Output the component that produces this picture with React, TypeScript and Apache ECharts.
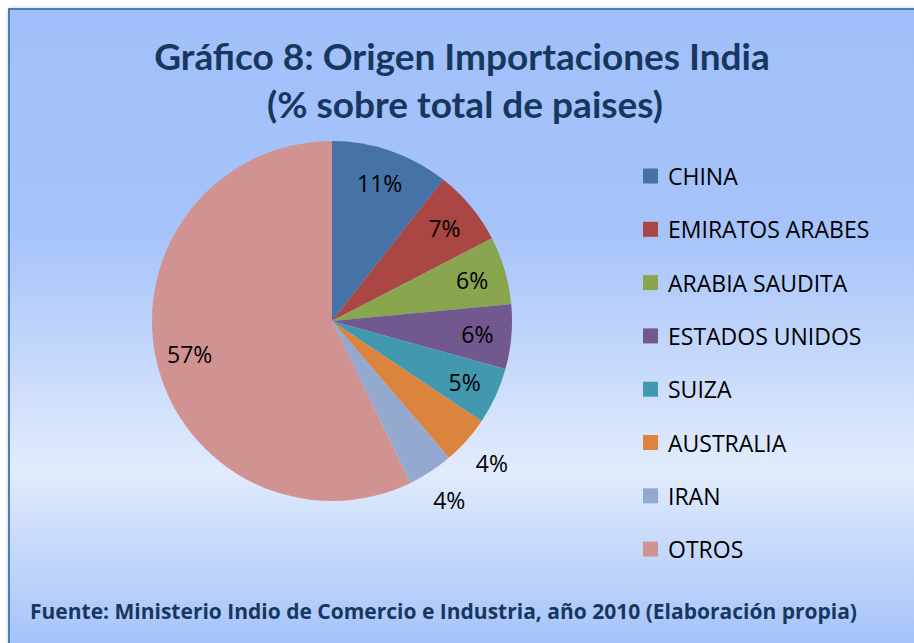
import React, { useEffect, useRef } from "react";
import * as echarts from "echarts";

const titleLines = ["Gráfico 8: Origen Importaciones India", "(% sobre total de paises)"];
const sourceText = "Fuente: Ministerio Indio de Comercio e Industria, año 2010 (Elaboración propia)";
const categories = ["CHINA", "EMIRATOS ARABES", "ARABIA SAUDITA", "ESTADOS UNIDOS", "SUIZA", "AUSTRALIA", "IRAN", "OTROS"];
const values = [10.6, 6.8, 6.1, 5.8, 5.1, 4.35, 4.05, 57.2];
const colors = ["#4572A7", "#AA4643", "#89A54E", "#71588F", "#4198AF", "#DB843D", "#93A9CF", "#D19392"];
const outerLabelNames = ["AUSTRALIA", "IRAN"];

const TITLE_COLOR = "#17375E";
const LABEL_FONT = "'Open Sans', 'DejaVu Sans', sans-serif";
const TITLE_FONT = "Lato, 'Open Sans', sans-serif";
const SOURCE_FONT = "'Open Sans', Lato, sans-serif";

export default function App() {
  const ref = useRef<HTMLDivElement>(null);

  useEffect(() => {
    if (!ref.current) return;
    const chart = echarts.init(ref.current, undefined, { renderer: "svg" });

    const center = [332, 321];
    const labelStyle = {
      position: "inside",
      formatter: "{d}%",
      color: "#000",
      fontFamily: LABEL_FONT,
      fontSize: 23,
    };

    const mainData = categories.map((name, i) => ({
      name,
      value: values[i],
      itemStyle: { color: colors[i] },
    }));
    const innerLabelData = categories.map((name, i) => ({
      name,
      value: values[i],
      label: { show: !outerLabelNames.includes(name) },
    }));
    const outerLabelData = categories.map((name, i) => ({
      name,
      value: values[i],
      label: { show: outerLabelNames.includes(name) },
    }));

    const overlayCommon = {
      type: "pie",
      center,
      startAngle: 90,
      clockwise: true,
      silent: true,
      avoidLabelOverlap: false,
      percentPrecision: 0,
      itemStyle: { color: "rgba(0,0,0,0)", borderWidth: 0 },
      labelLine: { show: false },
      emphasis: { disabled: true },
      label: labelStyle,
    };

    chart.setOption({
      animation: false,
      color: colors,
      graphic: [
        {
          type: "rect",
          z: -10,
          shape: { x: 9, y: 9, width: 930, height: 640 },
          style: {
            fill: {
              type: "linear",
              x: 0,
              y: 0,
              x2: 0,
              y2: 1,
              colorStops: [
                { offset: 0, color: "#A1BFFA" },
                { offset: 0.35, color: "#A6C3FA" },
                { offset: 0.72, color: "#E1EBFC" },
                { offset: 1, color: "#A3C2FA" },
              ],
            },
            stroke: "#4A7EBB",
            lineWidth: 2,
            shadowBlur: 4,
            shadowOffsetX: 1,
            shadowOffsetY: 1,
            shadowColor: "rgba(0,0,0,0.35)",
          },
        },
        {
          type: "text",
          x: 462,
          y: 55,
          style: {
            text: titleLines[0],
            textAlign: "center",
            textVerticalAlign: "middle",
            fill: TITLE_COLOR,
            font: `bold 37px ${TITLE_FONT}`,
          },
        },
        {
          type: "text",
          x: 465,
          y: 103,
          style: {
            text: titleLines[1],
            textAlign: "center",
            textVerticalAlign: "middle",
            fill: TITLE_COLOR,
            font: `bold 37px ${TITLE_FONT}`,
          },
        },
        {
          type: "text",
          x: 30,
          y: 611,
          style: {
            text: sourceText,
            textAlign: "left",
            textVerticalAlign: "middle",
            fill: TITLE_COLOR,
            font: `bold 21px ${SOURCE_FONT}`,
          },
        },
      ],
      legend: {
        orient: "vertical",
        left: 643,
        top: 164,
        padding: 0,
        icon: "rect",
        itemWidth: 15,
        itemHeight: 15,
        itemGap: 29.3,
        selectedMode: false,
        data: categories,
        textStyle: {
          color: "#000",
          fontFamily: LABEL_FONT,
          fontSize: 23,
          lineHeight: 24,
          padding: [0, 0, 0, 5],
        },
      },
      series: [
        {
          type: "pie",
          center,
          radius: 180,
          startAngle: 90,
          clockwise: true,
          silent: true,
          percentPrecision: 0,
          label: { show: false },
          labelLine: { show: false },
          emphasis: { disabled: true },
          itemStyle: { borderWidth: 0 },
          data: mainData,
        },
        { ...overlayCommon, radius: [106, 180], data: innerLabelData },
        { ...overlayCommon, radius: [186, 236], data: outerLabelData },
      ],
    });

    return () => chart.dispose();
  }, []);

  return (
    <div
      ref={ref}
      style={{ position: "fixed", left: 0, top: 0, width: 914, height: 643, background: "#fff" }}
    />
  );
}
